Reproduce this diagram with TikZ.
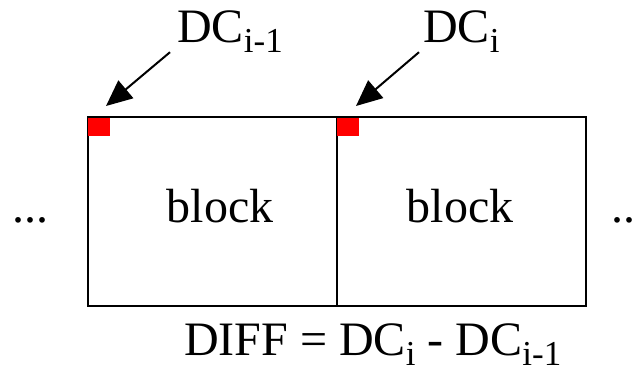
\documentclass[tikz,border=0pt]{standalone}
\usepackage{fontspec}
\setmainfont{Liberation Serif}
\usetikzlibrary{arrows.meta, positioning}
\tikzset{
  blockbox/.style={rectangle,draw,line width=2pt,minimum width=249pt,minimum height=189pt,inner sep=0pt,outer sep=0pt},
  dcmark/.style={rectangle,fill=red,minimum width=22pt,minimum height=18pt,inner sep=0pt,outer sep=0pt},
  txt/.style={anchor=base west,inner sep=0pt},
  line/.style={-{Triangle[length=26pt,width=23pt]},line width=2pt}
}
\newcommand\lowidx[1]{\raisebox{-10pt}{\fontsize{35}{35}\selectfont #1}}

\begin{document}
\begin{tikzpicture}[x=1pt,y=-1pt,font=\fontsize{48}{56}\selectfont]
\useasboundingbox (0,0) rectangle (635,370);
\node[blockbox] (blk1) at (212.5,211.5) {};
\node[blockbox, right=0pt of blk1] (blk2) {};
\node[anchor=base, inner sep=0pt] (t1) at (220,222) {block};
\node[anchor=base, inner sep=0pt] (t2) at (460,222) {block};
\node[dcmark, anchor=north west] (m1) at ([yshift=-1pt]blk1.north west) {};
\node[dcmark, anchor=north west] (m2) at ([yshift=-1pt]blk2.north west) {};
\node[txt] (l1) at (177,42) {DC\lowidx{i-1}};
\node[txt] (l2) at (423,42) {DC\lowidx{i}};
\node[txt] (dl) at (12,222) {...};
\node[txt] (dr) at (611,222) {..};
\node[txt] (diff) at (184,355) {DIFF = DC\lowidx{i} - DC\lowidx{i-1}};
\draw[line] ([shift={(-7,0)}]l1.south west) -- ([shift={(-4,-12)}]m1.north east);
\draw[line] ([shift={(-4,0)}]l2.south west) -- ([shift={(-3,-12)}]m2.north east);
\end{tikzpicture}
\end{document}
